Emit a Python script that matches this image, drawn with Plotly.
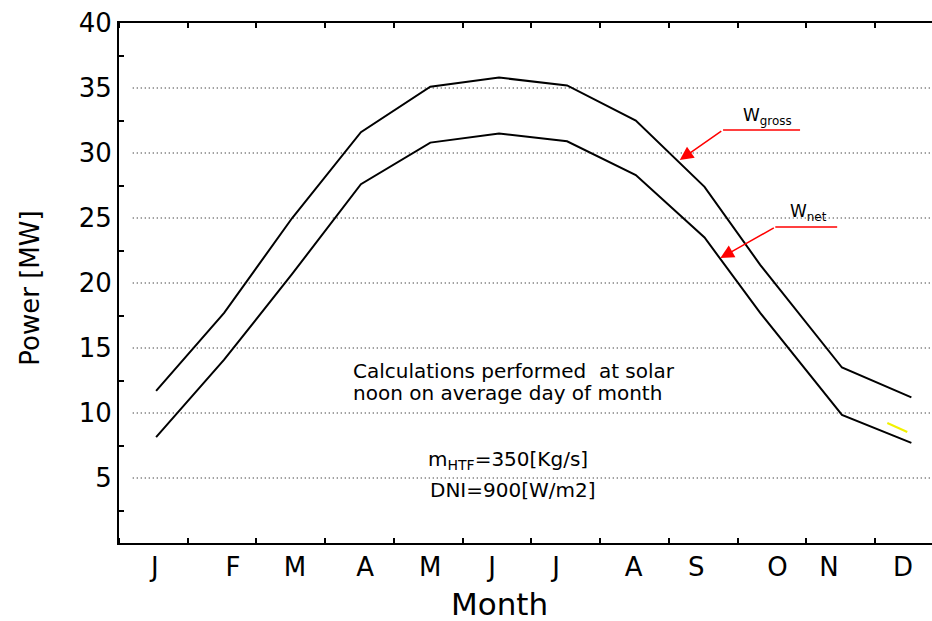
import plotly.graph_objects as go

# ---- data ----
month_pos = [0.54, 1.53, 2.52, 3.52, 4.53, 5.53, 6.52, 7.52, 8.52, 9.33, 10.52, 11.53]
w_gross = [11.7, 17.7, 25.0, 31.6, 35.1, 35.8, 35.2, 32.5, 27.4, 21.4, 13.5, 11.2]
w_net = [8.15, 14.1, 20.7, 27.6, 30.8, 31.5, 30.9, 28.3, 23.5, 17.7, 9.85, 7.7]

month_labels = ["J", "F", "M", "A", "M", "J", "J", "A", "S", "O", "N", "D"]
month_label_pos = [0.52, 1.66, 2.56, 3.58, 4.53, 5.43, 6.36, 7.49, 8.40, 9.58, 10.33, 11.41]
y_ticks = [5, 10, 15, 20, 25, 30, 35, 40]
grid_vals = [5, 10, 15, 20, 25, 30, 35]

FONT = "DejaVu Sans"

fig = go.Figure()
fig.add_trace(go.Scatter(x=month_pos, y=w_gross, mode="lines",
                         line=dict(color="black", width=2), name="W gross",
                         showlegend=False))
fig.add_trace(go.Scatter(x=month_pos, y=w_net, mode="lines",
                         line=dict(color="black", width=2), name="W net",
                         showlegend=False))

shapes = []
for g in grid_vals:
    shapes.append(dict(type="line", xref="x", yref="y", x0=0.2, x1=11.83, y0=g, y1=g,
                       line=dict(color="black", width=1, dash="1px,3px"), layer="below"))
# red leader lines
shapes.append(dict(type="line", xref="x", yref="y", x0=8.79, x1=9.91, y0=31.77, y1=31.77,
                   line=dict(color="#ff0000", width=1.5)))
shapes.append(dict(type="line", xref="x", yref="y", x0=9.55, x1=10.45, y0=24.31, y1=24.31,
                   line=dict(color="#ff0000", width=1.5)))
# small yellow stroke
shapes.append(dict(type="line", xref="x", yref="y", x0=11.18, x1=11.47, y0=9.23, y1=8.54,
                   line=dict(color="#f2f200", width=2)))

annotations = [
    dict(x=8.16, y=29.46, xref="x", yref="y", ax=43, ay=-30, text="", showarrow=True,
         arrowhead=2, arrowsize=1.8, arrowwidth=1.5, arrowcolor="#ff0000"),
    dict(x=8.75, y=21.92, xref="x", yref="y", ax=55, ay=-31, text="", showarrow=True,
         arrowhead=2, arrowsize=1.8, arrowwidth=1.5, arrowcolor="#ff0000"),
    dict(x=9.05, y=32.77, xref="x", yref="y", xanchor="left", yanchor="middle",
         text="W<sub>gross</sub>", showarrow=False, font=dict(family=FONT, size=17, color="black")),
    dict(x=9.74, y=25.46, xref="x", yref="y", xanchor="left", yanchor="middle",
         text="W<sub>net</sub>", showarrow=False, font=dict(family=FONT, size=17, color="black")),
    dict(x=3.38, y=13.23, xref="x", yref="y", xanchor="left", yanchor="middle",
         text="Calculations performed  at solar", showarrow=False,
         font=dict(family=FONT, size=20, color="black")),
    dict(x=3.38, y=11.54, xref="x", yref="y", xanchor="left", yanchor="middle",
         text="noon on average day of month", showarrow=False,
         font=dict(family=FONT, size=20, color="black")),
    dict(x=5.654, y=6.38, xref="x", yref="y", xanchor="center", yanchor="middle",
         text="m<sub>HTF</sub>=350[Kg/s]", showarrow=False,
         font=dict(family=FONT, size=20, color="black")),
    dict(x=5.74, y=4.08, xref="x", yref="y", xanchor="center", yanchor="middle",
         text="DNI=900[W/m2]", showarrow=False,
         font=dict(family=FONT, size=20, color="black")),
    dict(x=0.4686, y=-0.1175, xref="paper", yref="paper", xanchor="center", yanchor="middle",
         text="Month", showarrow=False, font=dict(family=FONT, size=31, color="black")),
    dict(x=-0.1095, y=0.491, xref="paper", yref="paper", xanchor="center", yanchor="middle",
         text="Power [MW]", textangle=-90, showarrow=False,
         font=dict(family=FONT, size=26, color="black")),
]

fig.update_layout(
    width=932, height=621,
    margin=dict(l=119, r=0, t=23, b=78, autoexpand=False),
    paper_bgcolor="white", plot_bgcolor="white",
    shapes=shapes, annotations=annotations,
    xaxis=dict(range=[0, 11.83], tickmode="array", tickvals=month_label_pos,
               ticktext=month_labels, ticks="", showgrid=False, zeroline=False,
               automargin=False,
               showline=True, linecolor="black", linewidth=2, mirror="ticks",
               tickfont=dict(family=FONT, size=26, color="black"),
               minor=dict(tickmode="linear", tick0=0, dtick=1, ticks="inside",
                          ticklen=5, tickwidth=1.5, tickcolor="black", showgrid=False)),
    yaxis=dict(range=[0, 40], tickmode="array", tickvals=y_ticks,
               ticktext=[str(v) for v in y_ticks], ticks="", showgrid=False,
               zeroline=False, showline=True, linecolor="black", linewidth=2,
               automargin=False,
               tickfont=dict(family=FONT, size=26, color="black"),
               minor=dict(tickmode="linear", tick0=2.5, dtick=5, ticks="inside",
                          ticklen=5, tickwidth=1.5, tickcolor="black", showgrid=False)),
)

fig.write_html("out.html", config={"displayModeBar": False},
               post_script="document.body.style.margin='0';document.body.style.overflow='hidden';")
